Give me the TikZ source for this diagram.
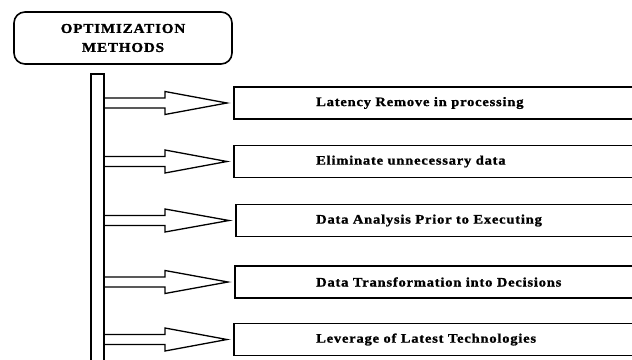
\documentclass[tikz,border=0pt]{standalone}
\usepackage{fontspec}
\newfontfamily\figfont[FakeStretch=1.12,LetterSpace=6,FakeBold=1.2]{Liberation Serif}
\usetikzlibrary{calc}
\begin{document}
\begin{tikzpicture}[x=1pt,y=-1pt,
  titlebox/.style={draw,line width=1.6pt,rounded corners=11pt,minimum width=218pt,minimum height=52pt,inner sep=0pt},
  itembox/.style={draw,line width=1.7pt,minimum width=420pt,minimum height=32pt,inner sep=0pt,anchor=west},
  itemtext/.style={anchor=west,inner sep=0pt,font=\figfont\bfseries\fontsize{13}{15}\selectfont},
  blockarrow/.style={draw,line width=1.3pt,line join=miter},
  barline/.style={draw,line width=1.6pt}]
\useasboundingbox (0,0) rectangle (632,359);
\clip (0,0) rectangle (632,359);
\fill[white] (0,0) rectangle (632,359);
% title
\node[titlebox,align=center,font=\figfont\bfseries\fontsize{13.5}{19}\selectfont] (title) at (123,38) {OPTIMIZATION\\METHODS};
% bar
\coordinate (bartopL) at (91,74);
\coordinate (bartopR) at (104,74);
\coordinate (barbotL) at (91,362);
\coordinate (barbotR) at (104,362);
\draw[barline] (barbotL) -- (bartopL) -- (bartopR) -- (barbotR);
% items
\foreach \i/\y/\lx/\t in {1/103/233/Latency Remove in processing,
                         2/161.5/233/Eliminate unnecessary data,
                         3/220.5/235/Data Analysis Prior to Executing,
                         4/282/234/Data Transformation into Decisions,
                         5/339.5/233/Leverage of Latest Technologies}{
  \node[itembox] (b\i) at (\lx,\y) {};
  \node[itemtext] (t\i) at (316,\y) {\t};
  \coordinate (s\i) at (104,\y);
  \draw[blockarrow] ($(s\i)+(0,-5)$) -- ($(s\i)+(61,-5)$) -- ($(s\i)+(61,-11.5)$)
     -- ($(b\i.west)+(-6,0)$) -- ($(s\i)+(61,11.5)$) -- ($(s\i)+(61,5)$) -- ($(s\i)+(0,5)$);
}
\end{tikzpicture}
\end{document}
